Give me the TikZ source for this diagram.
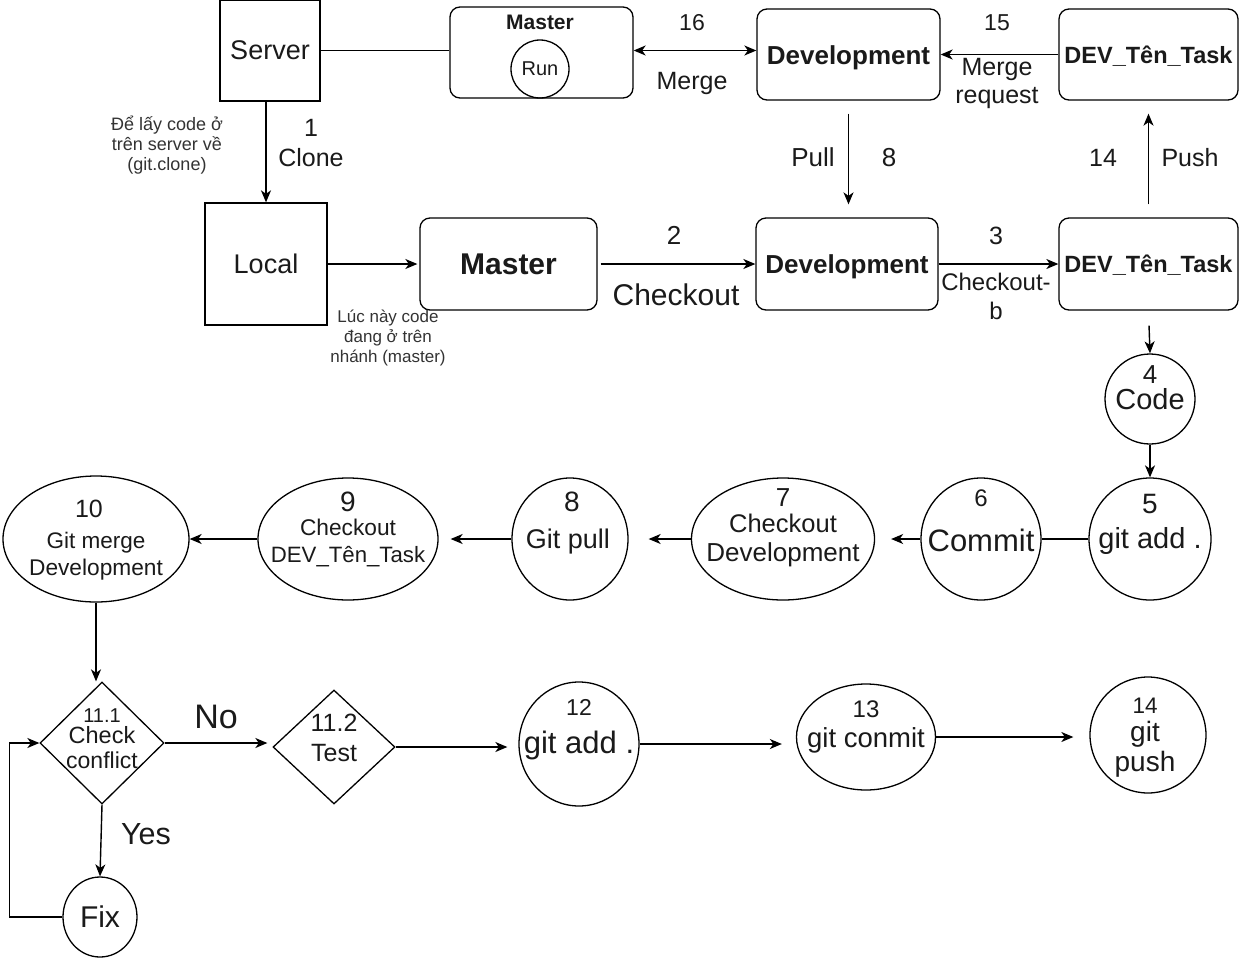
\documentclass[tikz,border=0pt]{standalone}
\usepackage{fontspec}
\setmainfont{Liberation Sans}
\usetikzlibrary{shapes.geometric,arrows.meta}
\definecolor{txt}{HTML}{1A1A1A}
\definecolor{ann}{HTML}{333333}
\newcommand{\fsz}[1]{\fontsize{#1}{#1}\selectfont}
\begin{document}
\begin{tikzpicture}[x=1pt,y=-1pt,
  every node/.style={text=txt},
  boxn/.style={draw, line width=1.3pt, inner sep=0pt},
  rbox/.style={boxn, rounded corners=10pt},
  ell/.style={draw, ellipse, line width=1.3pt, inner sep=0pt},
  dia/.style={draw, diamond, line width=1.3pt, inner sep=0pt},
  tx/.style={anchor=base, inner sep=0pt},
  arr/.style={line width=1.4pt, -{Stealth[length=12pt,width=10pt,inset=3.5pt]}},
  dblarr/.style={line width=1.4pt, {Stealth[length=12pt,width=10pt,inset=3.5pt]}-{Stealth[length=12pt,width=10pt,inset=3.5pt]}},
  ln/.style={line width=1.4pt},
]
\fill[white] (0,0) rectangle (1242,959);
\useasboundingbox (0,0) rectangle (1242,959);

% ---- boxes
\node[boxn, minimum width=100pt, minimum height=101pt, font=\fsz{27}] (server) at (270,50.5) {Server};
\node[boxn, minimum width=122pt, minimum height=122pt, font=\fsz{27}] (local) at (266,264) {Local};
\node[rbox, minimum width=177pt, minimum height=92pt, font=\fsz{30}\bfseries] (masterL) at (508.5,264) {Master};
\node[rbox, minimum width=182pt, minimum height=92pt, font=\fsz{26}\bfseries, text height=19pt, text depth=0pt] (devL) at (847,264) {Development};
\node[rbox, minimum width=179pt, minimum height=92pt, font=\fsz{23.5}\bfseries, text height=17pt, text depth=0pt] (taskL) at (1148.5,264) {DEV\_Tên\_Task};
\node[rbox, minimum width=183pt, minimum height=91pt] (masterT) at (541.5,52.5) {};
\node[ell, minimum width=58pt, minimum height=58pt, font=\fsz{20}] (run) at (540,69) {Run};
\node[rbox, minimum width=183pt, minimum height=91pt, font=\fsz{26}\bfseries, text height=19pt, text depth=0pt] (devT) at (848.5,54.5) {Development};
\node[rbox, minimum width=179pt, minimum height=91pt, font=\fsz{23.5}\bfseries, text height=17pt, text depth=0pt] (taskT) at (1148.5,54.5) {DEV\_Tên\_Task};

% ---- circles / ellipses / diamonds
\node[ell, minimum width=90pt, minimum height=90pt] (n4) at (1150,399) {};
\node[ell, minimum width=122pt, minimum height=122pt] (n5) at (1150,539) {};
\node[ell, minimum width=120pt, minimum height=122pt] (n6) at (981,539) {};
\node[ell, minimum width=183pt, minimum height=122pt] (n7) at (783,539) {};
\node[ell, minimum width=116pt, minimum height=122pt] (n8) at (570,539) {};
\node[ell, minimum width=180pt, minimum height=122pt] (n9) at (348,539) {};
\node[ell, minimum width=186pt, minimum height=126pt] (n10) at (96,539) {};
\node[dia, minimum width=124pt, minimum height=122pt] (d111) at (102,743) {};
\node[dia, minimum width=122pt, minimum height=114pt] (d112) at (334,747) {};
\node[ell, minimum width=120pt, minimum height=124pt] (n12) at (579,744) {};
\node[ell, minimum width=139pt, minimum height=106pt] (n13) at (866,737) {};
\node[ell, minimum width=116pt, minimum height=116pt] (n14) at (1148,735) {};
\node[ell, minimum width=74pt, minimum height=80pt, font=\fsz{30}] (fix) at (100,917) {Fix};

% ---- texts
\node[tx, font=\fsz{18}, text=ann] (a1) at (167,130) {Để lấy code ở};
\node[tx, font=\fsz{18}, text=ann] (a2) at (167,150) {trên server về};
\node[tx, font=\fsz{18}, text=ann] (a3) at (167,170) {(git.clone)};
\node[tx, font=\fsz{17}, text=ann] (b1) at (388,322) {Lúc này code};
\node[tx, font=\fsz{17}, text=ann] (b2) at (388,342) {đang ở trên};
\node[tx, font=\fsz{17}, text=ann] (b3) at (388,362) {nhánh (master)};
\node[tx, font=\fsz{25}] (l1a) at (311,136) {1};
\node[tx, font=\fsz{25}] (l1b) at (311,166) {Clone};
\node[tx, font=\fsz{21}\bfseries] (mT) at (540,29) {Master};
\node[tx, font=\fsz{23}] (l16a) at (692,30) {16};
\node[tx, font=\fsz{25}] (l16b) at (692,89) {Merge};
\node[tx, font=\fsz{23}] (l15a) at (997,30) {15};
\node[tx, font=\fsz{25}] (l15b) at (997,75) {Merge};
\node[tx, font=\fsz{25}] (l15c) at (997,103) {request};
\node[tx, font=\fsz{26}] (l8a) at (813,166) {Pull};
\node[tx, font=\fsz{26}] (l8b) at (889,166) {8};
\node[tx, font=\fsz{25}] (l14a) at (1103,166) {14};
\node[tx, font=\fsz{25}] (l14b) at (1190,166) {Push};
\node[tx, font=\fsz{26}] (l2a) at (674,244) {2};
\node[tx, font=\fsz{30}] (l2b) at (676,305) {Checkout};
\node[tx, font=\fsz{25}] (l3a) at (996,244) {3};
\node[tx, font=\fsz{24}] (l3b) at (996,290) {Checkout-};
\node[tx, font=\fsz{24}] (l3c) at (996,319) {b};
\node[tx, font=\fsz{26}] (t4a) at (1150,383) {4};
\node[tx, font=\fsz{29}] (t4b) at (1150,409) {Code};
\node[tx, font=\fsz{28}] (t5a) at (1150,513) {5};
\node[tx, font=\fsz{29}] (t5b) at (1150,548) {git add .};
\node[tx, font=\fsz{24}] (t6a) at (981,506) {6};
\node[tx, font=\fsz{31}] (t6b) at (981,551) {Commit};
\node[tx, font=\fsz{26}] (t7a) at (783,506) {7};
\node[tx, font=\fsz{25.5}] (t7b) at (783,532) {Checkout};
\node[tx, font=\fsz{26}] (t7c) at (783,561) {Development};
\node[tx, font=\fsz{28}] (t8a) at (572,511) {8};
\node[tx, font=\fsz{27}] (t8b) at (568,548) {Git pull};
\node[tx, font=\fsz{28}] (t9a) at (348,511) {9};
\node[tx, font=\fsz{22.7}] (t9b) at (348,535) {Checkout};
\node[tx, font=\fsz{22.2}] (t9c) at (348,562) {DEV\_Tên\_Task};
\node[tx, font=\fsz{25}] (t10a) at (89,517) {10};
\node[tx, font=\fsz{22.5}] (t10b) at (96,548) {Git merge};
\node[tx, font=\fsz{22.7}] (t10c) at (96,575) {Development};
\node[tx, font=\fsz{20}] (t11a) at (102,722) {11.1};
\node[tx, font=\fsz{23.5}] (t11b) at (102,743) {Check};
\node[tx, font=\fsz{23}] (t11c) at (102,768) {conflict};
\node[tx, font=\fsz{34}] (tno) at (216,728) {No};
\node[tx, font=\fsz{25}] (t112a) at (334,731) {11.2};
\node[tx, font=\fsz{25}] (t112b) at (334,761) {Test};
\node[tx, font=\fsz{23}] (t12a) at (579,715) {12};
\node[tx, font=\fsz{31}] (t12b) at (579,753) {git add .};
\node[tx, font=\fsz{24}] (t13a) at (866,717) {13};
\node[tx, font=\fsz{27.5}] (t13b) at (866,747) {git conmit};
\node[tx, font=\fsz{22.5}] (t14a) at (1145,713) {14};
\node[tx, font=\fsz{28}] (t14b) at (1145,741) {git};
\node[tx, font=\fsz{28}] (t14c) at (1145,771) {push};
\node[tx, font=\fsz{30.5}] (tyes) at (146,844) {Yes};

% ---- connectors
\draw[ln] (server.east) -- (server.east -| masterT.west);
\draw[dblarr] (masterT.east |- server.east) -- (devT.west |- server.east);
\draw[arr] (taskT.west) -- (devT.east);
\draw[arr] (local.north |- server.south) -- (local.north);
\draw[arr, shorten <=13pt, shorten >=13pt] (devT.south) -- (devT.south |- devL.north);
\draw[arr, shorten <=13pt, shorten >=13pt] (taskL.north) -- (taskL.north |- taskT.south);
\draw[arr, shorten >=2pt] (local.east) -- (masterL.west);
\draw[arr, shorten <=3pt] (masterL.east) -- (devL.west);
\draw[arr] (devL.east) -- (taskL.west);
\draw[arr, shorten <=15pt] (taskL.south) -- (n4.north);
\draw[arr] (n4.south) -- (n5.north);
\draw[ln] (n5.west) -- (n6.east);
\draw[arr, shorten >=16pt] (n6.west) -- (n7.east);
\draw[arr, shorten >=20pt] (n7.west) -- (n8.east);
\draw[arr, shorten >=12pt] (n8.west) -- (n9.east);
\draw[arr] (n9.west) -- (n10.east);
\draw[arr] (n10.south) -- (n10.south |- d111.north);
\draw[arr, shorten >=5pt] (d111.east) -- (d111.east -| d112.west);
\draw[arr, shorten >=11pt] (d112.east) -- (d112.east -| n12.west);
\draw[arr, shorten >=14pt] (n12.east) -- (n12.east -| n13.west);
\draw[arr, shorten >=16pt] (n13.east) -- (n13.east -| n14.west);
\draw[arr] (d111.south) -- (fix.north);
\draw[arr] (fix.west) -- ++(-53,0) |- (d111.west);
\end{tikzpicture}
\end{document}
